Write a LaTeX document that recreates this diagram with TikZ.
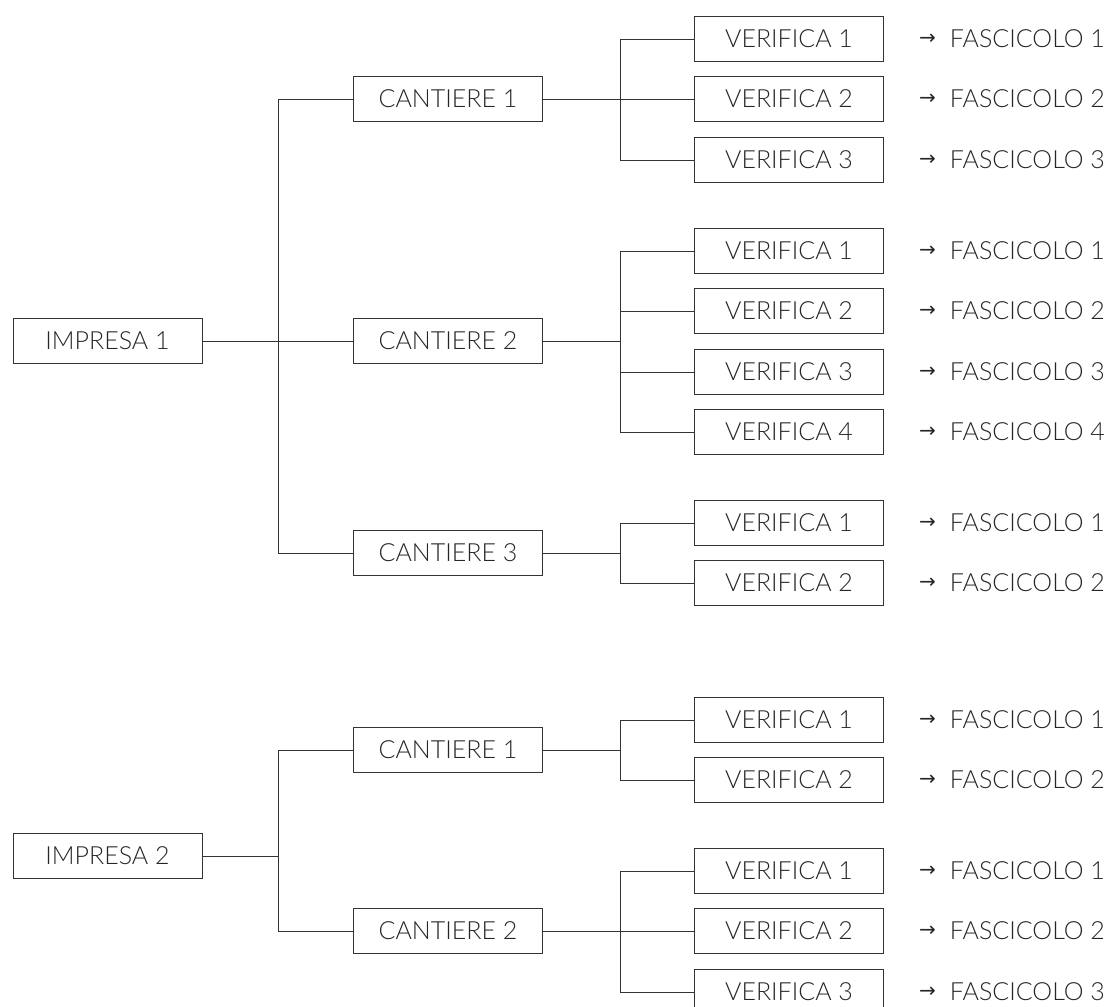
\documentclass[tikz,border=0pt]{standalone}
\usepackage{fontspec}
\setmainfont{Lato Light}
\newfontfamily\arrowfont{DejaVu Sans}
\tikzset{
  box/.style={draw=black!80,line width=0.8pt,minimum width=189pt,minimum height=45pt,inner sep=0pt,font=\fontsize{25}{29}\selectfont,text=black!85},
  fasc/.style={anchor=west,inner sep=0pt,font=\fontsize{25}{29}\selectfont,text=black!85},
  link/.style={draw=black!80,line width=0.8pt}
}
\begin{document}
\begin{tikzpicture}[x=1pt,y=-1pt]
\useasboundingbox (0,0) rectangle (1112,1007);
\coordinate (t1) at (278,0);
\coordinate (t2) at (620,0);
\node[box] (i1) at (107.5,341) {IMPRESA 1};
\node[box] (i2) at (107.5,856) {IMPRESA 2};
\foreach \n/\k/\y in {11/1/99,12/2/341,13/3/553,21/1/750,22/2/931}
  \node[box] (c\n) at (448,\y) {CANTIERE \k};
\foreach \n/\k/\y in {111/1/39,112/2/99,113/3/160,121/1/251,122/2/311,123/3/372,124/4/432,
    131/1/523,132/2/583,211/1/720,212/2/780,221/1/871,222/2/931,223/3/992}{
  \node[box] (v\n) at (789,\y) {VERIFICA \k};
  \node[fasc] (f\n) at (919,\y) {\raisebox{3pt}{\arrowfont\fontsize{20}{24}\selectfont →}\hspace{14pt}FASCICOLO \k};
}
\draw[link] (i1.east) -- (i1.east -| t1);
\draw[link] (c11.west) -- (c11.west -| t1) -- (c13.west -| t1) -- (c13.west);
\draw[link] (c12.west) -- (c12.west -| t1);
\draw[link] (i2.east) -- (i2.east -| t1);
\draw[link] (c21.west) -- (c21.west -| t1) -- (c22.west -| t1) -- (c22.west);
\foreach \c/\a/\b in {11/111/113,12/121/124,13/131/132,21/211/212,22/221/223}{
  \draw[link] (c\c.east) -- (c\c.east -| t2);
  \draw[link] (v\a.west) -- (v\a.west -| t2) -- (v\b.west -| t2) -- (v\b.west);
}
\foreach \m in {112,122,123,222}
  \draw[link] (v\m.west) -- (v\m.west -| t2);
\end{tikzpicture}
\end{document}
